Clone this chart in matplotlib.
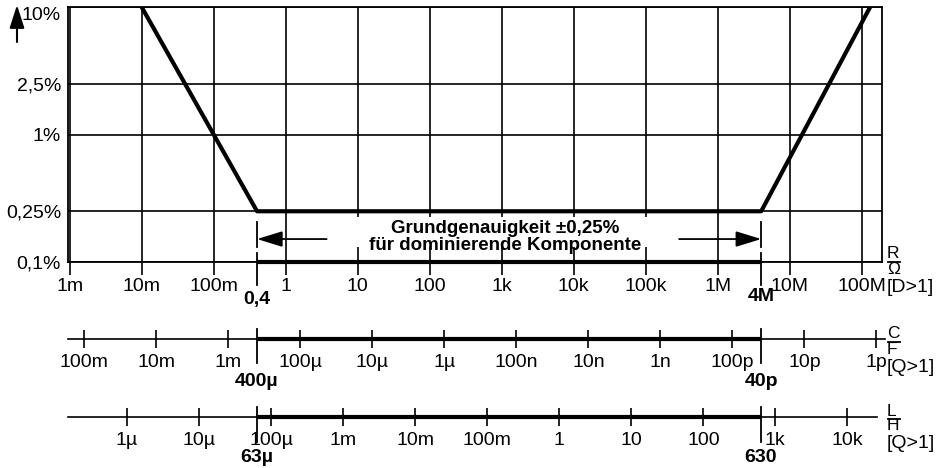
import numpy as np
import matplotlib
matplotlib.use('Agg')
import matplotlib.pyplot as plt
from matplotlib.lines import Line2D

plt.rcParams['font.family'] = ['Liberation Sans', 'DejaVu Sans']

# Messfrequenz fuer die Umrechnung R -> C, L
f_mess = 1000.0
w = 2 * np.pi * f_mess

# R-Bereich der Achse
r_min, r_max = 0.95e-3, 1.9e8

# Fehlerkurve (Genauigkeit in % ueber R)
err_r = [1e-2, 0.4, 4e6, 1.3e8]
err_pct = [10, 0.25, 0.25, 10]

# Grundgenauigkeit-Bereich
r_lo, r_hi = 0.4, 4e6
c_lo, c_hi = 400e-6, 40e-12
l_lo, l_hi = 63e-6, 630

r_ticks = [1e-3, 1e-2, 1e-1, 1, 10, 100, 1e3, 1e4, 1e5, 1e6, 1e7, 1e8]
r_labels = ['1m', '10m', '100m', '1', '10', '100', '1k', '10k', '100k', '1M', '10M', '100M']

pct_ticks = [0.1, 0.25, 1, 2.5, 10]
pct_labels = ['0,1%', '0,25%', '1%', '2,5%', '10%']

c_ticks = [1e-1, 1e-2, 1e-3, 1e-4, 1e-5, 1e-6, 1e-7, 1e-8, 1e-9, 1e-10, 1e-11, 1e-12]
c_labels = ['100m', '10m', '1m', '100µ', '10µ', '1µ', '100n', '10n', '1n', '100p', '10p', '1p']

l_ticks = [1e-6, 1e-5, 1e-4, 1e-3, 1e-2, 1e-1, 1, 10, 100, 1e3, 1e4]
l_labels = ['1µ', '10µ', '100µ', '1m', '10m', '100m', '1', '10', '100', '1k', '10k']

fs = 14
W, H = 952, 468

fig = plt.figure(figsize=(W / 100, H / 100), dpi=100)

# Hauptdiagramm
ax = fig.add_axes([68 / W, 1 - 262 / H, 814 / W, 255 / H])
ax.set_xscale('log')
ax.set_yscale('log')
ax.set_xlim(r_min, r_max)
ax.set_ylim(0.1, 10)
ax.set_xticks(r_ticks, r_labels)
ax.set_yticks(pct_ticks, pct_labels)
ax.minorticks_off()
ax.grid(True, color='black', lw=1.2)
ax.set_axisbelow(True)
ax.tick_params(axis='x', direction='out', length=9, width=1.2, pad=2.5, labelsize=fs)
ax.tick_params(axis='y', length=0, pad=5, labelsize=fs)
ax.get_yticklabels()[-1].set_va('top')
for s in ax.spines.values():
    s.set_linewidth(1.3)

# weisses Feld fuer den Text
ax.fill_between([1.4, 7e5], 0.131, 0.226, color='white', zorder=1.8, lw=0)

ax.plot(err_r, err_pct, color='black', lw=3, zorder=3, solid_capstyle='butt')
ax.plot([r_lo, r_hi], [0.1, 0.1], color='black', lw=3, zorder=3,
        clip_on=False, solid_capstyle='butt')

tr = ax.get_xaxis_transform()
for x in [r_lo, r_hi]:
    ax.plot([x, x], [0.157, 0.059], color='black', lw=1.3, transform=tr, clip_on=False, zorder=3)
    ax.plot([x, x], [0.035, -0.09], color='black', lw=1.3, transform=tr, clip_on=False, zorder=3)
ax.text(r_lo, -0.149, '0,4', transform=tr, ha='center', va='center',
        fontsize=fs, fontweight='bold')
ax.text(r_hi, -0.137, '4M', transform=tr, ha='center', va='center',
        fontsize=fs, fontweight='bold')

arr = dict(arrowstyle='-|>,head_length=1.3,head_width=0.4', color='black',
           lw=1.3, mutation_scale=12, shrinkA=0, shrinkB=0)
ax.annotate('', xy=(r_lo, 0.09), xytext=(3.7, 0.09), xycoords=tr, arrowprops=arr, zorder=4)
ax.annotate('', xy=(r_hi, 0.09), xytext=(2.9e5, 0.09), xycoords=tr, arrowprops=arr, zorder=4)
ax.text(1.1e3, 0.098, 'Grundgenauigkeit ±0,25%\nfür dominierende Komponente',
        transform=tr, ha='center', va='center', fontsize=13.5, fontweight='bold',
        linespacing=0.95, zorder=4)

# Pfeil an der y-Achse
ax.annotate('', xy=(17, H - 5), xytext=(17, H - 42), xycoords='figure pixels',
            arrowprops=dict(arrowstyle='-|>,head_length=1.4,head_width=0.45',
                            color='black', lw=1.5, mutation_scale=10,
                            shrinkA=0, shrinkB=0), annotation_clip=False)


def scale_axis(y_px, lims, ticks, labels, lo, hi, end_val, bold_lo, bold_hi, spec_bot, lab_y):
    a = fig.add_axes([68 / W, 1 - y_px / H, 814 / W, 10 / H])
    a.patch.set_visible(False)
    a.set_xscale('log')
    a.set_xlim(*lims)
    a.set_ylim(0, 1)
    a.set_yticks([])
    a.set_xticks(ticks, labels)
    a.minorticks_off()
    a.tick_params(axis='x', direction='inout', length=13, width=1.2, pad=4.5, labelsize=fs)
    for k in ['left', 'right', 'top']:
        a.spines[k].set_visible(False)
    a.spines['bottom'].set_linewidth(1.2)
    a.spines['bottom'].set_bounds(lims[0], end_val)
    a.plot([lo, hi], [0, 0], color='black', lw=3, clip_on=False, solid_capstyle='butt')
    for x, t in [(lo, bold_lo), (hi, bold_hi)]:
        a.plot([x, x], [1.0, spec_bot], color='black', lw=1.3, clip_on=False)
        a.text(x, lab_y, t, ha='center', va='center', fontsize=fs, fontweight='bold')
    return a


# C-Skala
scale_axis(339, (1 / (w * r_min), 1 / (w * r_max)), c_ticks, c_labels,
           c_lo, c_hi, 0.75e-12, '400µ', '40p', -2.4, -4.2)
# L-Skala
scale_axis(417, (r_min / w, r_max / w), l_ticks, l_labels,
           l_lo, l_hi, 2.6e4, '63µ', '630', -2.5, -4.0)


# Einheiten rechts
def ftext(px, py, s, size=fs):
    fig.text(px / W, 1 - py / H, s, ha='left', va='center', fontsize=size)


def uline(px, py):
    fig.add_artist(Line2D([px / W, (px + 12) / W], [1 - py / H, 1 - py / H],
                          transform=fig.transFigure, color='black', lw=1.3))


for top, a, b, c in [(254, 'R', 'Ω', '[D>1]'), (334, 'C', 'F', '[Q>1]'), (411, 'L', 'H', '[Q>1]')]:
    ftext(887, top, a, 12.5)
    uline(888, top + 7.5)
    ftext(887, top + 15, b, 12.5)
    ftext(887, top + 33, c)

fig.savefig('out.png', dpi=100)
